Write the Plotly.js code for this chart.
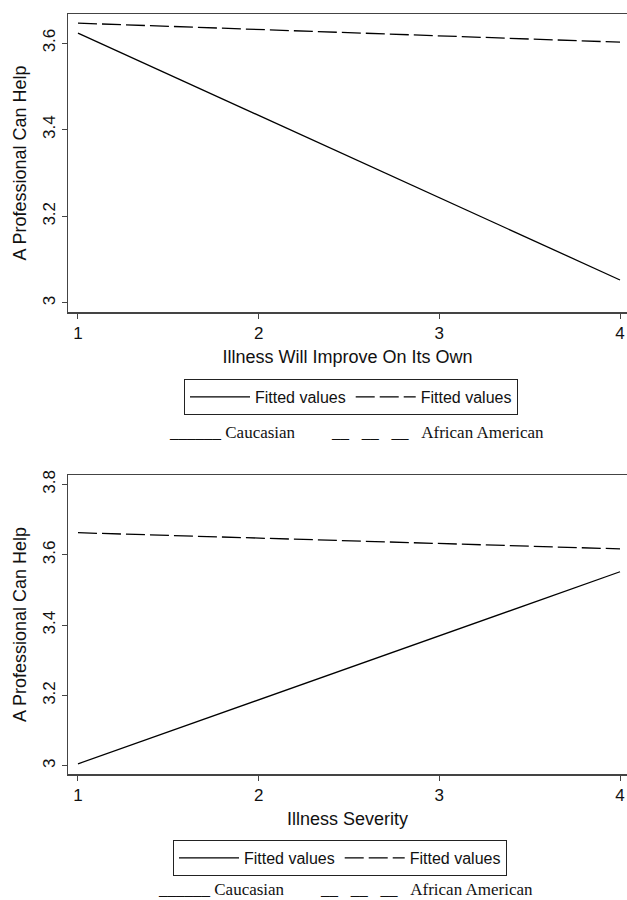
<!DOCTYPE html>
<html>
<head>
<meta charset="utf-8">
<script src="https://cdn.plot.ly/plotly-3.0.1.min.js"></script>
<style>html,body{margin:0;padding:0;background:#fff;}#chart{width:627px;height:900px;}</style>
</head>
<body>
<div id="chart"></div>
<script>
// Data
const xEnds = [1, 4];
const xTicks = [1, 2, 3, 4];
const topCaucasian = [3.623, 3.053];
const topAfricanAmerican = [3.646, 3.602];
const botCaucasian = [3.006, 3.552];
const botAfricanAmerican = [3.663, 3.617];
const topYTicks = [3, 3.2, 3.4, 3.6];
const topYLabels = ['3', '3.2', '3.4', '3.6'];
const botYTicks = [3, 3.2, 3.4, 3.6, 3.8];
const botYLabels = ['3', '3.2', '3.4', '3.6', '3.8'];
const seriesName = 'Fitted values';
const xTitleTop = 'Illness Will Improve On Its Own';
const xTitleBot = 'Illness Severity';
const yTitle = 'A Professional Can Help';
const keyCaucasian = '______\u00a0Caucasian';
const keyAfrican = '__\u00a0\u00a0\u00a0__\u00a0\u00a0\u00a0__\u00a0\u00a0\u00a0African American';

const solid = {color: '#000', width: 1.3, dash: 'solid'};
const dashed = {color: '#000', width: 1.3, dash: '19px,5px'};

const traces = [
  {x: xEnds, y: topCaucasian, mode: 'lines', name: seriesName, line: solid, xaxis: 'x', yaxis: 'y', legend: 'legend', hoverinfo: 'skip'},
  {x: xEnds, y: topAfricanAmerican, mode: 'lines', name: seriesName, line: dashed, xaxis: 'x', yaxis: 'y', legend: 'legend', hoverinfo: 'skip'},
  {x: xEnds, y: botCaucasian, mode: 'lines', name: seriesName, line: solid, xaxis: 'x2', yaxis: 'y2', legend: 'legend2', hoverinfo: 'skip'},
  {x: xEnds, y: botAfricanAmerican, mode: 'lines', name: seriesName, line: dashed, xaxis: 'x2', yaxis: 'y2', legend: 'legend2', hoverinfo: 'skip'}
];

const sans = 'Liberation Sans, Arial, Helvetica, sans-serif';
const serif = 'Liberation Serif, Times New Roman, serif';
const axisCol = '#444';

function xAx(anchor, title) {
  return {
    domain: [0, 1], anchor: anchor, range: [0.9447, 4.0387],
    tickvals: xTicks, ticktext: xTicks.map(String),
    ticks: 'outside', ticklen: 5, tickwidth: 1, tickcolor: axisCol,
    showline: true, linecolor: axisCol, linewidth: 1.5, mirror: true,
    showgrid: false, zeroline: false,
    tickfont: {family: sans, size: 17, color: '#111'},
    title: {text: title, font: {family: sans, size: 18, color: '#111'}, standoff: 8}
  };
}
function yAx(anchor, dom, rng, tv, tt) {
  return {
    domain: dom, anchor: anchor, range: rng,
    tickvals: tv, ticktext: tt, tickangle: -90,
    ticks: 'outside', ticklen: 5, tickwidth: 1, tickcolor: axisCol,
    showline: true, linecolor: axisCol, linewidth: 1.5, mirror: false,
    showgrid: false, zeroline: false,
    tickfont: {family: sans, size: 17, color: '#111'},
    title: {text: yTitle, font: {family: sans, size: 18, color: '#111'}, standoff: 8}
  };
}
function leg(y, x) {
  return {
    orientation: 'h', x: x, y: y, xanchor: 'left', yanchor: 'top',
    borderwidth: 1, bordercolor: '#222', bgcolor: 'rgba(0,0,0,0)',
    font: {family: sans, size: 16, color: '#111'}, itemwidth: 60,
    traceorder: 'normal'
  };
}

const layout = {
  width: 627, height: 900,
  margin: {l: 68, r: 0, t: 0, b: 0},
  paper_bgcolor: '#fff', plot_bgcolor: '#fff',
  showlegend: true,
  xaxis: xAx('y', xTitleTop),
  yaxis: yAx('x', [0.6533, 0.9844], [2.979, 3.667], topYTicks, topYLabels),
  xaxis2: xAx('y2', xTitleBot),
  yaxis2: yAx('x2', [0.14, 0.4722], [2.977, 3.827], botYTicks, botYLabels),
  legend: leg(1 - 379 / 900, (184 - 68) / 559),
  legend2: leg(1 - 840 / 900, (173 - 68) / 559),
  annotations: [
    {xref: 'paper', yref: 'paper', x: (167 - 68) / 559, y: 1 - 432 / 900, xanchor: 'left', yanchor: 'middle', showarrow: false, text: keyCaucasian, font: {family: serif, size: 17, color: '#111'}},
    {xref: 'paper', yref: 'paper', x: (329 - 68) / 559, y: 1 - 432 / 900, xanchor: 'left', yanchor: 'middle', showarrow: false, text: keyAfrican, font: {family: serif, size: 17, color: '#111'}},
    {xref: 'paper', yref: 'paper', x: (156 - 68) / 559, y: 1 - 889 / 900, xanchor: 'left', yanchor: 'middle', showarrow: false, text: keyCaucasian, font: {family: serif, size: 17, color: '#111'}},
    {xref: 'paper', yref: 'paper', x: (318 - 68) / 559, y: 1 - 889 / 900, xanchor: 'left', yanchor: 'middle', showarrow: false, text: keyAfrican, font: {family: serif, size: 17, color: '#111'}}
  ]
};

Plotly.newPlot('chart', traces, layout, {displayModeBar: false, staticPlot: true});
</script>
</body>
</html>
